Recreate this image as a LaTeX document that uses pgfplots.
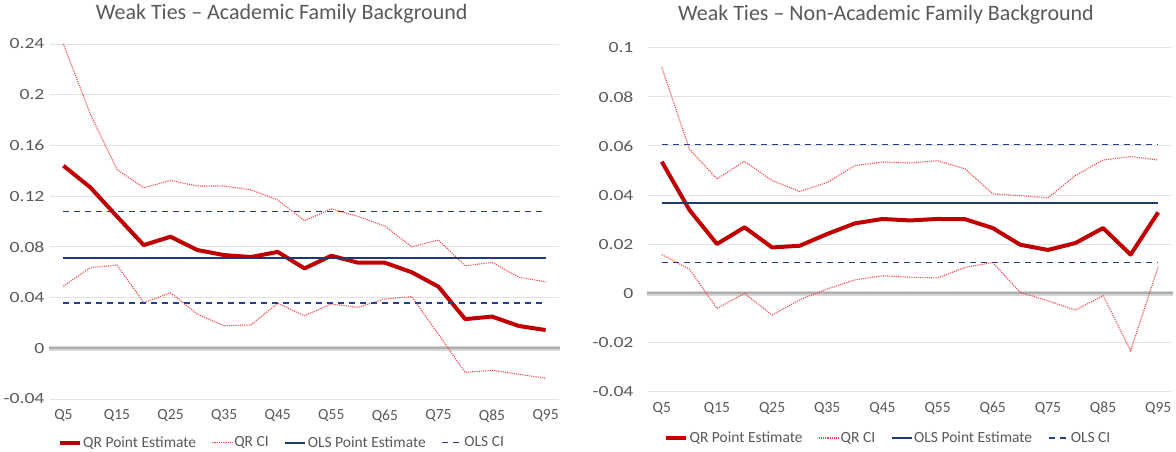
\documentclass[border=0pt]{standalone}
\usepackage{fontspec}
\setmainfont{Carlito}
\newfontfamily\ytickfont[FakeStretch=1.27]{Carlito}
\usepackage{pgfplots}
\usepackage{pgfplotstable}
\pgfplotsset{compat=1.18}

\definecolor{qrred}{HTML}{C00000}
\definecolor{cired}{HTML}{F2464A}
\definecolor{olsblue}{HTML}{1F3A73}
\definecolor{olsci}{HTML}{24408A}
\definecolor{gridc}{HTML}{E4E4E4}
\definecolor{txt}{HTML}{595959}

\pgfplotstableread{
idx qr lo hi
0 0.144 0.049 0.240
1 0.127 0.0636 0.185
2 0.104 0.0657 0.141
3 0.0814 0.036 0.1266
4 0.088 0.0438 0.1324
5 0.0775 0.027 0.128
6 0.0735 0.0178 0.128
7 0.072 0.0184 0.125
8 0.076 0.0355 0.117
9 0.063 0.0257 0.1006
10 0.073 0.0349 0.110
11 0.0675 0.0323 0.104
12 0.0675 0.0389 0.0964
13 0.060 0.0407 0.080
14 0.0486 0.011 0.0854
15 0.023 -0.019 0.065
16 0.025 -0.0173 0.0678
17 0.0176 -0.0205 0.056
18 0.0144 -0.0236 0.0525
}\acad

\pgfplotstableread{
idx qr lo hi
0 0.0536 0.0158 0.092
1 0.034 0.0099 0.0588
2 0.0201 -0.0061 0.0466
3 0.0269 0.0 0.0538
4 0.0187 -0.0088 0.0459
5 0.0194 -0.0026 0.0415
6 0.0242 0.0018 0.0452
7 0.0285 0.0055 0.052
8 0.0303 0.0072 0.0535
9 0.0297 0.0066 0.0531
10 0.0303 0.0063 0.054
11 0.0302 0.0106 0.0507
12 0.0266 0.0126 0.0405
13 0.0198 0.0004 0.0398
14 0.0177 -0.003 0.0389
15 0.0205 -0.0068 0.048
16 0.0266 -0.0009 0.0543
17 0.0158 -0.0233 0.0557
18 0.033 0.0109 0.0543
}\nonacad

\pgfplotsset{
  mystyle/.style={
    scale only axis,
    axis line style={draw=none},
    tick style={draw=none},
    ymajorgrids,
    grid style={gridc, line width=1pt},
    xmin=-0.5, xmax=18.5,
    xtick={0,2,4,6,8,10,12,14,16,18},
    xticklabels={Q5,Q15,Q25,Q35,Q45,Q55,Q65,Q75,Q85,Q95},
    ticklabel style={font=\fontsize{15.5}{18}\selectfont, text=txt},
    yticklabel style={font=\ytickfont\fontsize{15.5}{18}\selectfont},
    xticklabel style={yshift=-7pt},
    title style={font=\fontsize{22}{25}\selectfont, text=txt, anchor=base},
    legend columns=4,
    legend style={draw=none, fill=none, font=\fontsize{15.5}{18}\selectfont, text=txt,
      anchor=center, inner sep=0pt,
      nodes={inner sep=1.5pt},
      /tikz/every even column/.append style={column sep=14pt}},
    legend image code/.code={\draw[#1] (0pt,0pt) -- (20pt,0pt);},
    clip=false,
  },
  qrp/.style={qrred, line width=4pt, line join=round},
  qrci/.style={cired, line width=1.1pt, dash pattern=on 1.1pt off 1.1pt},
  olsp/.style={olsblue, line width=2pt},
  olsc/.style={olsci, line width=1.6pt, dash pattern=on 6pt off 5pt},
  zeroa/.style={black!16, line width=5pt},
  zerob/.style={black!32, line width=2pt},
}

\begin{document}
\begin{tikzpicture}
\path (0pt,0pt) rectangle (1176pt,451pt);

% ---------------- Left ----------------
\begin{axis}[mystyle,
  at={(50pt,52pt)}, anchor=south west,
  width=509pt, height=355pt,
  ymin=-0.04, ymax=0.24,
  ytick={-0.04,0,0.04,0.08,0.12,0.16,0.2,0.24},
  yticklabels={-0.04,0,0.04,0.08,0.12,0.16,0.2,0.24},
  yticklabel style={xshift=-2pt},
  title={Weak Ties – Academic Family Background},
  title style={at={(0.455,1)}, yshift=19pt},
  legend style={at={(0.455,-0.123)}},
]
\addlegendimage{qrp}
\addlegendimage{qrci}
\addlegendimage{olsp}
\addlegendimage{olsc}
\addplot[zeroa, forget plot] coordinates {(-0.55,0) (18.55,0)};
\addplot[zerob, forget plot] coordinates {(-0.55,0) (18.55,0)};
\addplot[qrci, forget plot] table[x=idx, y=hi] {\acad};
\addplot[qrci, forget plot] table[x=idx, y=lo] {\acad};
\addplot[qrp, forget plot] table[x=idx, y=qr] {\acad};
\addplot[olsp, forget plot] coordinates {(0,0.0714) (18,0.0714)};
\addplot[olsc, forget plot] coordinates {(0,0.108) (18,0.108)};
\addplot[olsc, forget plot] coordinates {(0,0.0355) (18,0.0355)};
\legend{QR Point Estimate, QR CI, OLS Point Estimate, OLS CI}
\end{axis}

% ---------------- Right ----------------
\begin{axis}[mystyle,
  at={(648pt,59.3pt)}, anchor=south west,
  width=524pt, height=344pt,
  ymin=-0.04, ymax=0.1,
  ytick={-0.04,-0.02,0,0.02,0.04,0.06,0.08,0.1},
  yticklabels={-0.04,-0.02,0,0.02,0.04,0.06,0.08,0.1},
  yticklabel style={xshift=-11pt},
  title={Weak Ties – Non-Academic Family Background},
  title style={at={(0.454,1)}, yshift=21.7pt},
  legend style={at={(0.458,-0.1346)}},
]
\addlegendimage{qrp}
\addlegendimage{qrci}
\addlegendimage{olsp}
\addlegendimage{olsc}
\addplot[zeroa, forget plot] coordinates {(-0.55,0) (18.55,0)};
\addplot[zerob, forget plot] coordinates {(-0.55,0) (18.55,0)};
\addplot[qrci, forget plot] table[x=idx, y=hi] {\nonacad};
\addplot[qrci, forget plot] table[x=idx, y=lo] {\nonacad};
\addplot[qrp, forget plot] table[x=idx, y=qr] {\nonacad};
\addplot[olsp, forget plot] coordinates {(0,0.0367) (18,0.0367)};
\addplot[olsc, forget plot] coordinates {(0,0.0606) (18,0.0606)};
\addplot[olsc, forget plot] coordinates {(0,0.0126) (18,0.0126)};
\legend{QR Point Estimate, QR CI, OLS Point Estimate, OLS CI}
\end{axis}
\end{tikzpicture}
\end{document}
